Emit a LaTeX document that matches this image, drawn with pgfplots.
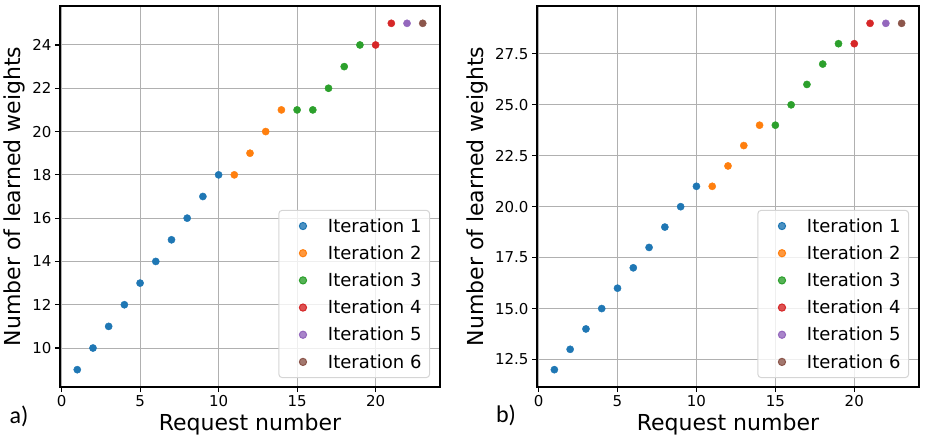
\documentclass[border=0pt]{standalone}
\usepackage{fontspec}
\setmainfont{DejaVu Sans}
\newfontfamily\carlito{Carlito}
\usepackage{pgfplots}
\pgfplotsset{compat=1.18}

% matplotlib tab10
\definecolor{c0}{HTML}{1F77B4}
\definecolor{c1}{HTML}{FF7F0E}
\definecolor{c2}{HTML}{2CA02C}
\definecolor{c3}{HTML}{D62728}
\definecolor{c4}{HTML}{9467BD}
\definecolor{c5}{HTML}{8C564B}
\definecolor{gridgray}{HTML}{B0B0B0}
\definecolor{legendgray}{HTML}{D5D5D5}

\pgfplotsset{
  panel/.style={
    scale only axis,
    height=381pt,
    xmin=-0.1, xmax=24.1,
    xtick={0,5,10,15,20},
    grid=major,
    grid style={color=gridgray, line width=1pt},
    axis line style={line width=1.1pt},
    tick align=outside,
    major tick length=5pt,
    tick style={black, line width=1.1pt},
    xtick pos=bottom, ytick pos=left,
    /pgf/number format/assume math mode=true,
    tick label style={font=\fontsize{15}{18}\selectfont},
    label style={font=\fontsize{22}{26}\selectfont},
    xlabel={Request number},
    ylabel={Number of learned weights},
    legend style={
      at={(1,0)}, anchor=south east, xshift=-10pt, yshift=9pt,
      font=\fontsize{18}{22}\selectfont,
      draw=legendgray, line width=1pt, rounded corners=3pt,
      fill=white, fill opacity=0.8, text opacity=1,
      cells={anchor=west}, row sep=8pt,
      inner xsep=6pt, inner ysep=6pt,
    },
  },
  dots/.style={only marks, mark=*, mark size=3.6pt, color=#1, mark options={fill=#1, draw=#1},
    legend image code/.code={
      \path[draw=none] (0pt,0pt) -- (41pt,0pt);
      \fill[fill=#1] (18pt,0pt) circle (3.6pt);
    }},
}

\begin{document}
\begin{tikzpicture}
\path[use as bounding box] (0,0) rectangle (929pt,440pt);

% panel a)
\begin{axis}[panel, at={(60pt,53pt)}, anchor=south west, width=380pt,
    ymin=8.2, ymax=25.8, ytick={10,12,...,24}]
  \addplot[dots=c0] coordinates {(1,9) (2,10) (3,11) (4,12) (5,13) (6,14) (7,15) (8,16) (9,17) (10,18)};
  \addplot[dots=c1] coordinates {(11,18) (12,19) (13,20) (14,21)};
  \addplot[dots=c2] coordinates {(15,21) (16,21) (17,22) (18,23) (19,24)};
  \addplot[dots=c3] coordinates {(20,24) (21,25)};
  \addplot[dots=c4] coordinates {(22,25)};
  \addplot[dots=c5] coordinates {(23,25)};
  \legend{Iteration 1,Iteration 2,Iteration 3,Iteration 4,Iteration 5,Iteration 6}
\end{axis}

% panel b)
\begin{axis}[panel, at={(537pt,53pt)}, anchor=south west, width=382pt,
    ymin=11.15, ymax=29.85, ytick={12.5,15,...,27.5},
    yticklabel style={/pgf/number format/.cd, fixed, fixed zerofill, precision=1}]
  \addplot[dots=c0] coordinates {(1,12) (2,13) (3,14) (4,15) (5,16) (6,17) (7,18) (8,19) (9,20) (10,21)};
  \addplot[dots=c1] coordinates {(11,21) (12,22) (13,23) (14,24)};
  \addplot[dots=c2] coordinates {(15,24) (16,25) (17,26) (18,27) (19,28)};
  \addplot[dots=c3] coordinates {(20,28) (21,29)};
  \addplot[dots=c4] coordinates {(22,29)};
  \addplot[dots=c5] coordinates {(23,29)};
  \legend{Iteration 1,Iteration 2,Iteration 3,Iteration 4,Iteration 5,Iteration 6}
\end{axis}

\node at (19pt,24pt) {\carlito\fontsize{24}{28}\selectfont a)};
\node at (506pt,25pt) {\carlito\fontsize{24}{28}\selectfont b)};
\end{tikzpicture}
\end{document}
